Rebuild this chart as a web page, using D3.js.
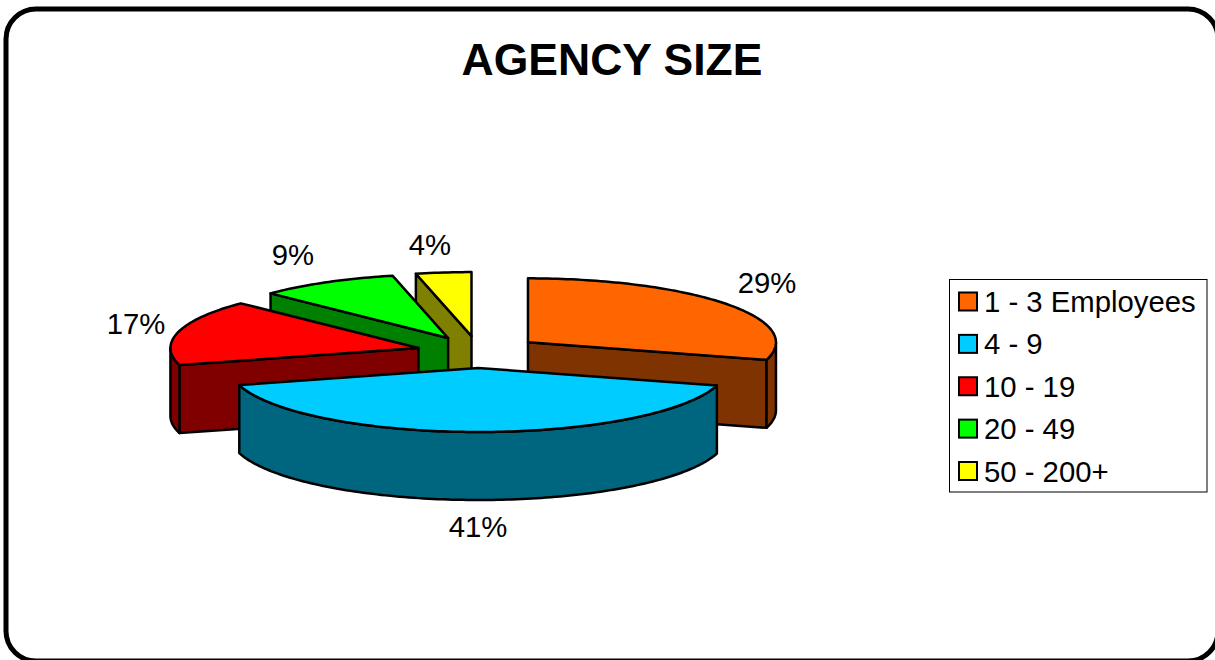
<!DOCTYPE html>
<html lang="en">
<head>
	<meta charset="UTF-8">
	<title>Agency Size</title>
	<script type="text/javascript" src="https://cdn.jsdelivr.net/npm/d3@7/dist/d3.min.js"></script>
	<style>
		html, body { margin: 0; padding: 0; background: #fff; overflow: hidden; }
		svg { display: block; }
		text { font-family: "Liberation Sans", Arial, sans-serif; fill: #000; }
	</style>
</head>
<body>
	<div class="chart"></div>
	<script type="text/javascript">
		var categories = ['1 - 3 Employees', '4 - 9', '10 - 19', '20 - 49', '50 - 200+'];
		var values = [29.4, 41.3, 16.6, 9.1, 3.6];
		var topColors = ['#ff6600', '#00ccff', '#ff0000', '#00ff00', '#ffff00'];
		var sideColors = ['#7f3300', '#006680', '#800000', '#008000', '#808000'];

		var width = 1215, height = 660;
		var cx = 478.5, cy = 352, rx = 248, ry = 64, depth = 68, explode = 0.25;
		// where the percent labels sit, same order as categories
		var labelAt = [[767, 283], [478, 527], [136, 324], [293, 255], [430, 245]];

		var svg = d3.select('.chart').append('svg').attr('width', width).attr('height', height);

		// frame runs off the right and bottom of the page
		svg.append('rect')
			.attr('x', 6).attr('y', 9)
			.attr('width', 1212).attr('height', 652)
			.attr('rx', 30).attr('ry', 30)
			.attr('fill', '#fff').attr('stroke', '#000').attr('stroke-width', 5);

		svg.append('text')
			.attr('x', 612).attr('y', 75)
			.attr('text-anchor', 'middle')
			.attr('font-size', 44.5).attr('font-weight', 'bold')
			.text('AGENCY SIZE');

		var pieData = d3.pie().sort(null).value(function(d){ return d; })(values);

		function rim(a){
			return [rx * Math.sin(a), -ry * Math.cos(a)];
		}
		var line = d3.line();

		function arcPoints(a0, a1, c, dy){
			var n = Math.max(2, Math.ceil((a1 - a0) / 0.02));
			return d3.range(n + 1).map(function(i){
				var a = a0 + (a1 - a0) * i / n, p = rim(a);
				return [c[0] + p[0], c[1] + p[1] + dy];
			});
		}

		var slices = pieData.map(function(d, i){
			var mid = (d.startAngle + d.endAngle) / 2, off = rim(mid);
			return {
				i: i, a0: d.startAngle, a1: d.endAngle, mid: mid,
				c: [cx + off[0] * explode, cy + off[1] * explode]
			};
		}).sort(function(a, b){ return Math.cos(b.mid) - Math.cos(a.mid); });

		var pies = svg.append('g')
			.attr('stroke', '#000').attr('stroke-width', 2.5).attr('stroke-linejoin', 'round');

		function cutFace(g, s, a){
			var p = rim(a);
			g.append('path')
				.attr('d', line([
					s.c,
					[s.c[0] + p[0], s.c[1] + p[1]],
					[s.c[0] + p[0], s.c[1] + p[1] + depth],
					[s.c[0], s.c[1] + depth]
				]) + 'Z')
				.attr('fill', sideColors[s.i]);
		}

		slices.forEach(function(s){
			var g = pies.append('g');
			// only the faces turned to the viewer
			if (Math.sin(s.a0) < -1e-6) cutFace(g, s, s.a0);
			if (Math.sin(s.a1) > 1e-6) cutFace(g, s, s.a1);

			var w0 = Math.max(s.a0, Math.PI / 2), w1 = Math.min(s.a1, Math.PI * 1.5);
			if (w1 > w0) {
				var upper = arcPoints(w0, w1, s.c, 0);
				var lower = arcPoints(w0, w1, s.c, depth).reverse();
				g.append('path')
					.attr('d', line(upper.concat(lower)) + 'Z')
					.attr('fill', sideColors[s.i]);
			}

			g.append('path')
				.attr('d', line([s.c].concat(arcPoints(s.a0, s.a1, s.c, 0))) + 'Z')
				.attr('fill', topColors[s.i]);
		});

		svg.selectAll('.pct').data(values).enter().append('text')
			.attr('class', 'pct')
			.attr('x', function(d, i){ return labelAt[i][0]; })
			.attr('y', function(d, i){ return labelAt[i][1] + 10; })
			.attr('text-anchor', 'middle')
			.attr('font-size', 29.3)
			.text(function(d){ return Math.round(d) + '%'; });

		// legend
		svg.append('rect')
			.attr('x', 949.5).attr('y', 279.5)
			.attr('width', 257.5).attr('height', 212.5)
			.attr('fill', '#fff').attr('stroke', '#000').attr('stroke-width', 1);

		var rowY = d3.scalePoint().domain(categories).range([301.5, 471]);

		var rows = svg.selectAll('.row').data(categories).enter().append('g')
			.attr('class', 'row')
			.attr('transform', function(d){ return 'translate(0,' + rowY(d) + ')'; });

		rows.append('rect')
			.attr('x', 959).attr('y', -9)
			.attr('width', 18).attr('height', 18)
			.attr('fill', function(d, i){ return topColors[i]; })
			.attr('stroke', '#000').attr('stroke-width', 2);

		rows.append('text')
			.attr('x', 984).attr('y', 10.5)
			.attr('font-size', 29.3)
			.text(function(d){ return d; });
	</script>
</body>
</html>
